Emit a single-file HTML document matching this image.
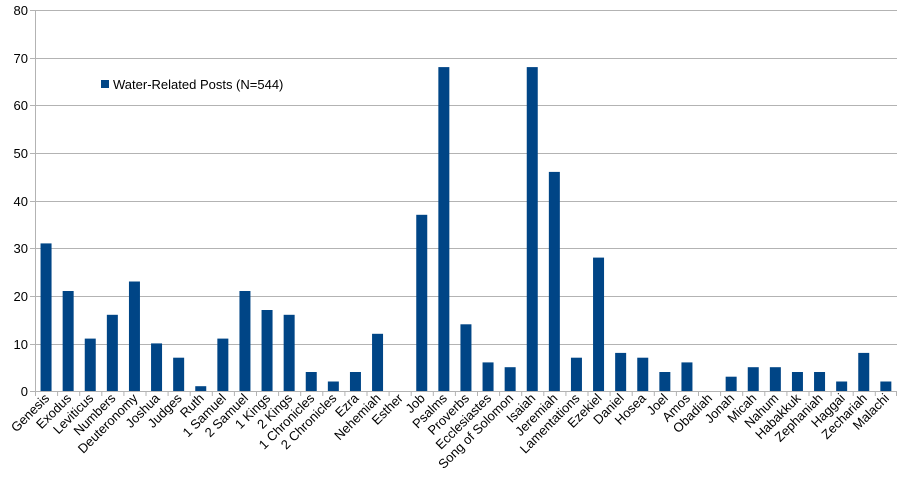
<!DOCTYPE html>
<html><head><meta charset="utf-8"><style>
html,body{margin:0;padding:0;background:#fff;}
svg{display:block;font-family:"Liberation Sans",Arial,sans-serif;}
</style></head><body>
<svg width="907" height="500" xmlns="http://www.w3.org/2000/svg">
<g stroke="#b3b3b3" stroke-width="1">
<line x1="30" y1="10.5" x2="897" y2="10.5"/>
<line x1="30" y1="58.5" x2="897" y2="58.5"/>
<line x1="30" y1="105.5" x2="897" y2="105.5"/>
<line x1="30" y1="153.5" x2="897" y2="153.5"/>
<line x1="30" y1="201.5" x2="897" y2="201.5"/>
<line x1="30" y1="248.5" x2="897" y2="248.5"/>
<line x1="30" y1="296.5" x2="897" y2="296.5"/>
<line x1="30" y1="344.5" x2="897" y2="344.5"/>
<line x1="30" y1="391.5" x2="897" y2="391.5"/>
<line x1="35.5" y1="10" x2="35.5" y2="396"/>
</g>
<g font-size="13" fill="#000" text-anchor="end">
<text x="28" y="15">80</text><text x="28" y="63">70</text><text x="28" y="110">60</text>
<text x="28" y="158">50</text><text x="28" y="206">40</text><text x="28" y="253">30</text>
<text x="28" y="301">20</text><text x="28" y="349">10</text><text x="28" y="396">0</text>
</g>
<g stroke="#b3b3b3">
<path d="M57.6 391v5M79.7 391v5M101.8 391v5M123.9 391v5M146 391v5M168.1 391v5M190.2 391v5M212.3 391v5M234.4 391v5M256.5 391v5M278.6 391v5M300.7 391v5M322.8 391v5M344.9 391v5M367 391v5M389.1 391v5M411.2 391v5M433.3 391v5M455.4 391v5M477.5 391v5M499.6 391v5M521.7 391v5M543.8 391v5M565.9 391v5M588 391v5M610.1 391v5M632.2 391v5M654.3 391v5M676.4 391v5M698.5 391v5M720.6 391v5M742.7 391v5M764.8 391v5M786.9 391v5M809 391v5M831.1 391v5M853.2 391v5M875.3 391v5M896.5 391v5"/>
</g>
<g fill="#004586" font-size="13">
<g transform="translate(46.05,0)"><rect x="-5.5" y="243.4" width="11" height="147.6"/><text transform="translate(4,399) rotate(-45)" text-anchor="end" fill="#000">Genesis</text></g>
<g transform="translate(68.15,0)"><rect x="-5.5" y="291" width="11" height="100"/><text transform="translate(4,399) rotate(-45)" text-anchor="end" fill="#000">Exodus</text></g>
<g transform="translate(90.25,0)"><rect x="-5.5" y="338.6" width="11" height="52.4"/><text transform="translate(4,399) rotate(-45)" text-anchor="end" fill="#000">Leviticus</text></g>
<g transform="translate(112.35,0)"><rect x="-5.5" y="314.8" width="11" height="76.2"/><text transform="translate(4,399) rotate(-45)" text-anchor="end" fill="#000">Numbers</text></g>
<g transform="translate(134.45,0)"><rect x="-5.5" y="281.5" width="11" height="109.5"/><text transform="translate(4,399) rotate(-45)" text-anchor="end" fill="#000">Deuteronomy</text></g>
<g transform="translate(156.55,0)"><rect x="-5.5" y="343.4" width="11" height="47.6"/><text transform="translate(4,399) rotate(-45)" text-anchor="end" fill="#000">Joshua</text></g>
<g transform="translate(178.65,0)"><rect x="-5.5" y="357.7" width="11" height="33.3"/><text transform="translate(4,399) rotate(-45)" text-anchor="end" fill="#000">Judges</text></g>
<g transform="translate(200.75,0)"><rect x="-5.5" y="386.2" width="11" height="4.8"/><text transform="translate(4,399) rotate(-45)" text-anchor="end" fill="#000">Ruth</text></g>
<g transform="translate(222.85,0)"><rect x="-5.5" y="338.6" width="11" height="52.4"/><text transform="translate(4,399) rotate(-45)" text-anchor="end" fill="#000">1 Samuel</text></g>
<g transform="translate(244.95,0)"><rect x="-5.5" y="291" width="11" height="100"/><text transform="translate(4,399) rotate(-45)" text-anchor="end" fill="#000">2 Samuel</text></g>
<g transform="translate(267.05,0)"><rect x="-5.5" y="310" width="11" height="81"/><text transform="translate(4,399) rotate(-45)" text-anchor="end" fill="#000">1 Kings</text></g>
<g transform="translate(289.15,0)"><rect x="-5.5" y="314.8" width="11" height="76.2"/><text transform="translate(4,399) rotate(-45)" text-anchor="end" fill="#000">2 Kings</text></g>
<g transform="translate(311.25,0)"><rect x="-5.5" y="372" width="11" height="19"/><text transform="translate(4,399) rotate(-45)" text-anchor="end" fill="#000">1 Chronicles</text></g>
<g transform="translate(333.35,0)"><rect x="-5.5" y="381.5" width="11" height="9.5"/><text transform="translate(4,399) rotate(-45)" text-anchor="end" fill="#000">2 Chronicles</text></g>
<g transform="translate(355.45,0)"><rect x="-5.5" y="372" width="11" height="19"/><text transform="translate(4,399) rotate(-45)" text-anchor="end" fill="#000">Ezra</text></g>
<g transform="translate(377.55,0)"><rect x="-5.5" y="333.8" width="11" height="57.2"/><text transform="translate(4,399) rotate(-45)" text-anchor="end" fill="#000">Nehemiah</text></g>
<g transform="translate(399.65,0)"><text transform="translate(4,399) rotate(-45)" text-anchor="end" fill="#000">Esther</text></g>
<g transform="translate(421.75,0)"><rect x="-5.5" y="214.8" width="11" height="176.2"/><text transform="translate(4,399) rotate(-45)" text-anchor="end" fill="#000">Job</text></g>
<g transform="translate(443.85,0)"><rect x="-5.5" y="67.1" width="11" height="323.9"/><text transform="translate(4,399) rotate(-45)" text-anchor="end" fill="#000">Psalms</text></g>
<g transform="translate(465.95,0)"><rect x="-5.5" y="324.3" width="11" height="66.7"/><text transform="translate(4,399) rotate(-45)" text-anchor="end" fill="#000">Proverbs</text></g>
<g transform="translate(488.05,0)"><rect x="-5.5" y="362.4" width="11" height="28.6"/><text transform="translate(4,399) rotate(-45)" text-anchor="end" fill="#000">Ecclesiastes</text></g>
<g transform="translate(510.15,0)"><rect x="-5.5" y="367.2" width="11" height="23.8"/><text transform="translate(4,399) rotate(-45)" text-anchor="end" fill="#000">Song of Solomon</text></g>
<g transform="translate(532.25,0)"><rect x="-5.5" y="67.1" width="11" height="323.9"/><text transform="translate(4,399) rotate(-45)" text-anchor="end" fill="#000">Isaiah</text></g>
<g transform="translate(554.35,0)"><rect x="-5.5" y="171.9" width="11" height="219.1"/><text transform="translate(4,399) rotate(-45)" text-anchor="end" fill="#000">Jeremiah</text></g>
<g transform="translate(576.45,0)"><rect x="-5.5" y="357.7" width="11" height="33.3"/><text transform="translate(4,399) rotate(-45)" text-anchor="end" fill="#000">Lamentations</text></g>
<g transform="translate(598.55,0)"><rect x="-5.5" y="257.6" width="11" height="133.4"/><text transform="translate(4,399) rotate(-45)" text-anchor="end" fill="#000">Ezekiel</text></g>
<g transform="translate(620.65,0)"><rect x="-5.5" y="352.9" width="11" height="38.1"/><text transform="translate(4,399) rotate(-45)" text-anchor="end" fill="#000">Daniel</text></g>
<g transform="translate(642.75,0)"><rect x="-5.5" y="357.7" width="11" height="33.3"/><text transform="translate(4,399) rotate(-45)" text-anchor="end" fill="#000">Hosea</text></g>
<g transform="translate(664.85,0)"><rect x="-5.5" y="372" width="11" height="19"/><text transform="translate(4,399) rotate(-45)" text-anchor="end" fill="#000">Joel</text></g>
<g transform="translate(686.95,0)"><rect x="-5.5" y="362.4" width="11" height="28.6"/><text transform="translate(4,399) rotate(-45)" text-anchor="end" fill="#000">Amos</text></g>
<g transform="translate(709.05,0)"><text transform="translate(4,399) rotate(-45)" text-anchor="end" fill="#000">Obadiah</text></g>
<g transform="translate(731.15,0)"><rect x="-5.5" y="376.7" width="11" height="14.3"/><text transform="translate(4,399) rotate(-45)" text-anchor="end" fill="#000">Jonah</text></g>
<g transform="translate(753.25,0)"><rect x="-5.5" y="367.2" width="11" height="23.8"/><text transform="translate(4,399) rotate(-45)" text-anchor="end" fill="#000">Micah</text></g>
<g transform="translate(775.35,0)"><rect x="-5.5" y="367.2" width="11" height="23.8"/><text transform="translate(4,399) rotate(-45)" text-anchor="end" fill="#000">Nahum</text></g>
<g transform="translate(797.45,0)"><rect x="-5.5" y="372" width="11" height="19"/><text transform="translate(4,399) rotate(-45)" text-anchor="end" fill="#000">Habakkuk</text></g>
<g transform="translate(819.55,0)"><rect x="-5.5" y="372" width="11" height="19"/><text transform="translate(4,399) rotate(-45)" text-anchor="end" fill="#000">Zephaniah</text></g>
<g transform="translate(841.65,0)"><rect x="-5.5" y="381.5" width="11" height="9.5"/><text transform="translate(4,399) rotate(-45)" text-anchor="end" fill="#000">Haggai</text></g>
<g transform="translate(863.75,0)"><rect x="-5.5" y="352.9" width="11" height="38.1"/><text transform="translate(4,399) rotate(-45)" text-anchor="end" fill="#000">Zechariah</text></g>
<g transform="translate(885.85,0)"><rect x="-5.5" y="381.5" width="11" height="9.5"/><text transform="translate(4,399) rotate(-45)" text-anchor="end" fill="#000">Malachi</text></g>
</g>
<rect x="101" y="80" width="8" height="8" fill="#004586"/>
<text x="113" y="89" font-size="13" fill="#000">Water-Related Posts (N=544)</text>
</svg>
</body></html>
